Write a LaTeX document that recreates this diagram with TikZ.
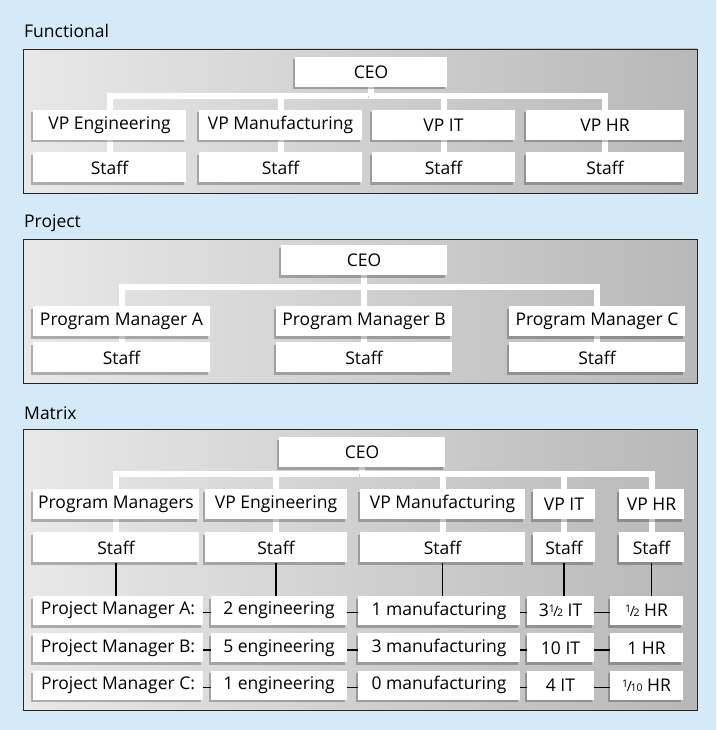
\documentclass[tikz,border=0pt]{standalone}
\usepackage{fontspec}
\setmainfont{Open Sans}
\usepackage{xcolor}
\usepackage{tikz}
\usetikzlibrary{positioning, shadows, backgrounds}
\definecolor{bgblue}{RGB}{212,234,248}
\tikzstyle{unit} = [rectangle, inner sep=0pt, minimum height=30pt, text centered, fill=white, drop shadow={shadow xshift=-2.5pt, shadow yshift=-2.5pt, fill=black, opacity=0.25}]
\tikzstyle{panel} = [draw=black!85, line width=0.9pt, left color=gray!18, right color=gray!56]
\tikzstyle{link} = [white, line width=6pt, preaction={draw=black, opacity=0.22, transform canvas={shift={(-2.5pt,-2.5pt)}}}]
\tikzstyle{tie} = [black, line width=1.3pt]
\tikzstyle{heading} = [anchor=west, inner sep=0pt]
\newcommand\frc[2]{\raisebox{0.45ex}{\fontsize{10.5}{10}\selectfont#1}\kern-0.08em{\fontsize{14}{14}\selectfont/}\kern-0.08em{\fontsize{10.5}{10}\selectfont#2}}

\begin{document}
\begin{tikzpicture}[x=1pt, y=-1pt, font=\fontsize{17.5}{20}\selectfont]
        \begin{scope}[on background layer]
            \fill[bgblue] (0,0) rectangle (716,730);
            \draw[panel] (23,49) rectangle (697,193);
            \draw[panel] (23,239) rectangle (697,383);
            \draw[panel] (23,429) rectangle (697,710);
        \end{scope}

        % Functional
        \node[heading] (lfunc) at (24,31) {Functional};
        \node[unit, minimum width=152pt] (fceo) at (371,72) {CEO};
        \node[unit, minimum width=153pt] (fvpeng) at (109.5,125) {VP Engineering};
        \node[unit, minimum width=163pt] (fvpman) at (280.5,125) {VP Manufacturing};
        \node[unit, minimum width=143pt] (fvpit) at (443.5,125) {VP IT};
        \node[unit, minimum width=158pt] (fvphr) at (605,125) {VP HR};
        \node[unit, minimum width=153pt, below=12pt of fvpeng] (fsteng) {Staff};
        \node[unit, minimum width=163pt, below=12pt of fvpman] (fstman) {Staff};
        \node[unit, minimum width=143pt, below=12pt of fvpit] (fstit) {Staff};
        \node[unit, minimum width=158pt, below=12pt of fvphr] (fsthr) {Staff};
        \coordinate (fbar) at (0,96);

        % Project
        \node[heading] (lproj) at (24,223) {Project};
        \node[unit, minimum width=166pt] (pceo) at (364,260) {CEO};
        \node[unit, minimum width=177pt] (ppma) at (121.5,321) {Program Manager A};
        \node[unit, minimum width=176pt] (ppmb) at (364,321) {Program Manager B};
        \node[unit, minimum width=176pt] (ppmc) at (597,321) {Program Manager C};
        \node[unit, minimum width=177pt, below=6pt of ppma] (psta) {Staff};
        \node[unit, minimum width=176pt, below=6pt of ppmb] (pstb) {Staff};
        \node[unit, minimum width=176pt, below=6pt of ppmc] (pstc) {Staff};
        \coordinate (pbar) at (0,287);

        % Matrix
        \node[heading] (lmat) at (24,413) {Matrix};
        \node[unit, minimum width=166pt] (mceo) at (362,452) {CEO};
        \node[unit, minimum width=166pt] (mvppm) at (116,504) {Program Managers};
        \node[unit, minimum width=142pt] (mvpeng) at (276,504) {VP Engineering};
        \node[unit, minimum width=165pt] (mvpman) at (442.5,504) {VP Manufacturing};
        \node[unit, minimum width=62pt] (mvpit) at (564,504) {VP IT};
        \node[unit, minimum width=65pt] (mvphr) at (651.5,504) {VP HR};
        \node[unit, minimum width=166pt, below=13pt of mvppm] (mstpm) {Staff};
        \node[unit, minimum width=142pt, below=13pt of mvpeng] (msteng) {Staff};
        \node[unit, minimum width=165pt, below=13pt of mvpman] (mstman) {Staff};
        \node[unit, minimum width=62pt, below=13pt of mvpit] (mstit) {Staff};
        \node[unit, minimum width=65pt, below=13pt of mvphr] (msthr) {Staff};
        \coordinate (mbar) at (0,474);

        \node[unit, minimum height=29pt, minimum width=170pt] (mapm) at (118,610.5) {Project Manager A:};
        \node[unit, minimum height=29pt, minimum width=136pt] (maeng) at (279,610.5) {2 engineering};
        \node[unit, minimum height=29pt, minimum width=162pt] (maman) at (439,610.5) {1 manufacturing};
        \node[unit, minimum height=29pt, minimum width=67pt] (mait) at (560.5,610.5) {3\frc{1}{2} IT};
        \node[unit, minimum height=29pt, minimum width=73pt] (mahr) at (646.5,610.5) {\frc{1}{2} HR};
        \node[unit, minimum height=29pt, minimum width=170pt, below=8pt of mapm] (mbpm) {Project Manager B:};
        \node[unit, minimum height=29pt, minimum width=136pt, below=8pt of maeng] (mbeng) {5 engineering};
        \node[unit, minimum height=29pt, minimum width=162pt, below=8pt of maman] (mbman) {3 manufacturing};
        \node[unit, minimum height=29pt, minimum width=67pt, below=8pt of mait] (mbit) {10 IT};
        \node[unit, minimum height=29pt, minimum width=73pt, below=8pt of mahr] (mbhr) {1 HR};
        \node[unit, minimum height=29pt, minimum width=170pt, below=8pt of mbpm] (mcpm) {Project Manager C:};
        \node[unit, minimum height=29pt, minimum width=136pt, below=8pt of mbeng] (mceng) {1 engineering};
        \node[unit, minimum height=29pt, minimum width=162pt, below=8pt of mbman] (mcman) {0 manufacturing};
        \node[unit, minimum height=29pt, minimum width=67pt, below=8pt of mbit] (mcit) {4 IT};
        \node[unit, minimum height=29pt, minimum width=73pt, below=8pt of mbhr] (mchr) {\frc{1}{10} HR};

        \begin{scope}[on background layer]
            \draw[link] (fvpeng.center) |- (fvphr.center |- fbar) -- (fvphr.center);
            \draw[link] (fceo.center) -- (fceo.center |- fbar);
            \draw[link] (fvpman.center) -- (fvpman.center |- fbar);
            \draw[link] (fvpit.center) -- (fvpit.center |- fbar);
            \draw[link] (fvpeng) -- (fsteng);
            \draw[link] (fvpman) -- (fstman);
            \draw[link] (fvpit) -- (fstit);
            \draw[link] (fvphr) -- (fsthr);

            \draw[link] (ppma.center) |- (ppmc.center |- pbar) -- (ppmc.center);
            \draw[link] (pceo) -- (ppmb);
            \draw[link] (ppma) -- (psta);
            \draw[link] (ppmb) -- (pstb);
            \draw[link] (ppmc) -- (pstc);

            \draw[link] (mvppm.center) |- (mvphr.center |- mbar) -- (mvphr.center);
            \draw[link] (mceo.center) -- (mceo.center |- mbar);
            \draw[link] (mvpeng.center) -- (mvpeng.center |- mbar);
            \draw[link] (mvpman.center) -- (mvpman.center |- mbar);
            \draw[link] (mvpit.center) -- (mvpit.center |- mbar);
            \draw[link] (mvppm) -- (mstpm);
            \draw[link] (mvpeng) -- (msteng);
            \draw[link] (mvpman) -- (mstman);
            \draw[link] (mvpit) -- (mstit);
            \draw[link] (mvphr) -- (msthr);
        \end{scope}

        \foreach \col in {pm, eng, man, it, hr}
            \draw[tie] (mst\col.south) -- (mst\col.south |- ma\col.north);
        \foreach \row in {ma, mb, mc} {
            \draw[tie] ([yshift=-2pt]\row pm.east) -- ([yshift=-2pt]\row eng.west);
            \draw[tie] ([yshift=-2pt]\row eng.east) -- ([yshift=-2pt]\row man.west);
            \draw[tie] ([yshift=-2pt]\row man.east) -- ([yshift=-2pt]\row it.west);
            \draw[tie] ([yshift=-2pt]\row it.east) -- ([yshift=-2pt]\row hr.west);
        }
\end{tikzpicture}
\end{document}
